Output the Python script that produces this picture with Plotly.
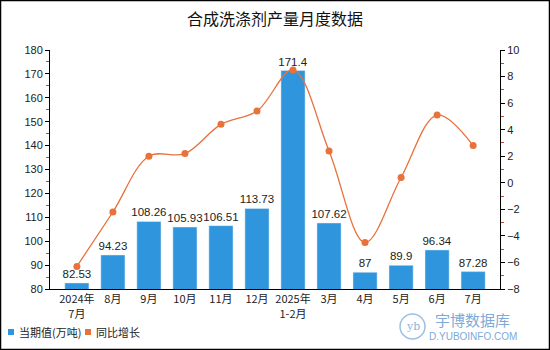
import plotly.graph_objects as go

# Monthly synthetic detergent output and year-on-year growth
months = ["2024年<br>7月", "8月", "9月", "10月", "11月", "12月", "2025年<br>1-2月",
          "3月", "4月", "5月", "6月", "7月"]
output_wt = [82.53, 94.23, 108.26, 105.93, 106.51, 113.73, 171.4, 107.62, 87, 89.9, 96.34, 87.28]
yoy_growth = [-6.3, -2.2, 2.0, 2.2, 4.4, 5.4, 8.5, 2.4, -4.5, 0.4, 5.1, 2.8]
output_text = ["82.53", "94.23", "108.26", "105.93", "106.51", "113.73", "171.4",
               "107.62", "87", "89.9", "96.34", "87.28"]
legend_names = ["当期值(万吨)", "同比增长"]

BAR_BLUE = "#2F95DD"
LINE_ORANGE = "#E9713A"
CJK = "Noto Sans CJK SC, Arial, sans-serif"

PLOT_W, PLOT_H = 450, 239


def px_x(x):
    return (x - 50) / PLOT_W


def px_y(y):
    return (289 - y) / PLOT_H


fig = go.Figure()

fig.add_trace(go.Bar(
    x=months, y=output_wt, name=legend_names[0],
    marker_color=BAR_BLUE, text=output_text, textposition="outside",
    constraintext="none", textangle=0,
    textfont=dict(size=11.5, color="#222", family="Arial"),
    cliponaxis=False, showlegend=False,
))

fig.add_trace(go.Scatter(
    x=months, y=yoy_growth, name=legend_names[1], yaxis="y2",
    mode="lines+markers", line=dict(color=LINE_ORANGE, width=1.3, shape="spline"),
    marker=dict(color=LINE_ORANGE, size=7), showlegend=False,
))

axis_common = dict(
    showgrid=False, zeroline=False, showline=True, linecolor="black", linewidth=1,
    ticks="outside", ticklen=4, tickcolor="black", automargin=False,
    tickfont=dict(size=11, color="#222", family="Arial"),
)

fig.update_layout(
    width=550, height=350,
    margin=dict(l=50, r=50, t=50, b=61, autoexpand=False),
    paper_bgcolor="white", plot_bgcolor="white",
    title=dict(text="合成洗涤剂产量月度数据", x=0.5, xanchor="center", y=0.945, yanchor="middle",
               font=dict(size=16, color="#111", family=CJK)),
    bargap=0.33,
    xaxis=dict(showgrid=False, showline=True, linecolor="black", ticks="", automargin=False,
               tickfont=dict(size=11, color="#222", family=CJK)),
    yaxis=dict(range=[80, 180], dtick=10, **axis_common,
               minor=dict(dtick=5, ticks="outside", ticklen=3, tickcolor="#E03C3C")),
    yaxis2=dict(range=[-8, 10], dtick=2, overlaying="y", side="right", **axis_common,
                minor=dict(dtick=1, ticks="outside", ticklen=3, tickcolor="#E03C3C")),
    showlegend=False,
)

# Legend: small colour squares with labels
for name, col, sx in [(legend_names[0], BAR_BLUE, 8), (legend_names[1], LINE_ORANGE, 85)]:
    fig.add_shape(type="rect", xref="paper", yref="paper",
                  x0=px_x(sx), x1=px_x(sx + 6), y0=px_y(335), y1=px_y(329),
                  line=dict(width=0), fillcolor=col)
    fig.add_annotation(text=name, xref="paper", yref="paper", x=px_x(sx + 9), y=px_y(332),
                       xanchor="left", yanchor="middle", showarrow=False,
                       font=dict(size=11, color="#222", family=CJK))

# Outer frame
fig.add_shape(type="rect", xref="paper", yref="paper",
              x0=px_x(0.5), x1=px_x(549.5), y0=px_y(349.5), y1=px_y(0.5),
              line=dict(color="black", width=1.5), fillcolor="rgba(0,0,0,0)")

# Watermark logo
fig.add_shape(type="circle", xref="paper", yref="paper",
              x0=px_x(400), x1=px_x(425), y0=px_y(339), y1=px_y(314),
              line=dict(color="#9CC0E2", width=1.5), fillcolor="rgba(0,0,0,0)")
fig.add_annotation(text="yb", xref="paper", yref="paper", x=px_x(412.5), y=px_y(326.5),
                   xanchor="center", yanchor="middle", showarrow=False,
                   font=dict(size=11, color="#8DB6DD", family="DejaVu Serif"))
fig.add_annotation(text="宇博数据库", xref="paper", yref="paper",
                   x=px_x(472), y=px_y(319), xanchor="center", yanchor="middle", showarrow=False,
                   font=dict(size=15, color="#7DAAD8", family=CJK))
fig.add_annotation(text="D.YUBOINFO.COM", xref="paper", yref="paper",
                   x=px_x(473), y=px_y(336), xanchor="center", yanchor="middle", showarrow=False,
                   font=dict(size=10, color="#7DAAD8", family="Arial"))

fig.write_html("out.html")
